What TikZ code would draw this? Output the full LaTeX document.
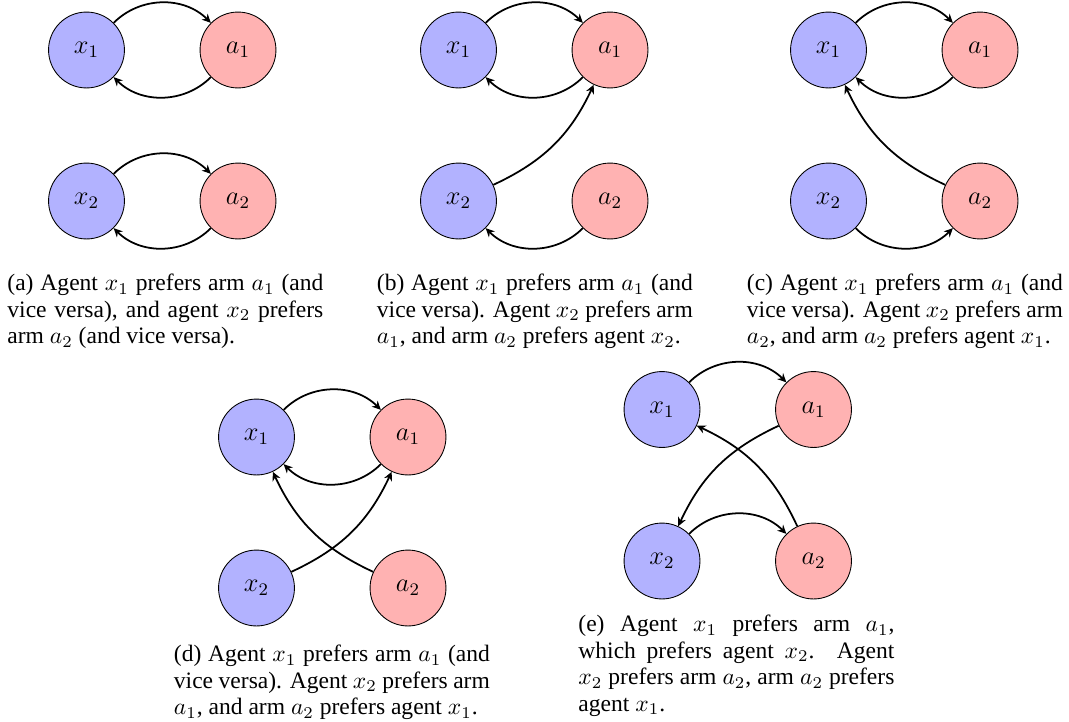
\documentclass[tikz,border=0pt]{standalone}
\usepackage{fix-cm}
\usepackage[no-math]{fontspec}
\setmainfont{Liberation Serif}
\usetikzlibrary{arrows.meta}
\newlength\capw
\setlength\capw{143.6pt}
\newcommand\jline[1]{\hbox to \capw{#1}}
\newcommand\lastline[1]{\hbox{#1}}
\newcommand\capblock[1]{\vtop{\hsize=\capw \baselineskip=12.1pt \lineskiplimit=-20pt #1}}
\begin{document}
\begin{tikzpicture}[x=0.4545pt,y=0.4545pt,
  agent/.style={circle,draw,fill=blue!30,minimum size=34.5pt,inner sep=0pt,font=\large,line width=0.4pt},
  arm/.style={agent,fill=red!30},
  pref/.style={-{Stealth[length=4pt,width=3.8pt,inset=1.3pt]},line width=0.8pt},
  captext/.style={anchor=base west,inner sep=0pt,font=\fontsize{10.7}{12.1}\selectfont}]
\useasboundingbox (0,0) rectangle (1069,-721);
% (a)
\node[agent] (ax1) at (86.5,-50) {$x_1$};
\node[arm]   (aa1) at (238,-50) {$a_1$};
\node[agent] (ax2) at (86.5,-201) {$x_2$};
\node[arm]   (aa2) at (238,-201) {$a_2$};
\draw[pref] (ax1) to[bend left=45] (aa1);
\draw[pref] (aa1) to[bend left=45] (ax1);
\draw[pref] (ax2) to[bend left=45] (aa2);
\draw[pref] (aa2) to[bend left=45] (ax2);
\node[captext] (capa) at (7,-290.5) {\capblock{%
  \jline{(a) Agent $x_1$ prefers arm $a_1$ (and}
  \jline{vice versa), and agent $x_2$ prefers}
  \lastline{arm $a_2$ (and vice versa).}}};
% (b)
\node[agent] (bx1) at (458.5,-50) {$x_1$};
\node[arm]   (ba1) at (610,-50) {$a_1$};
\node[agent] (bx2) at (458.5,-201) {$x_2$};
\node[arm]   (ba2) at (610,-201) {$a_2$};
\draw[pref] (bx1) to[bend left=45] (ba1);
\draw[pref] (ba1) to[bend left=45] (bx1);
\draw[pref] (bx2) to[bend right=20] (ba1);
\draw[pref] (ba2) to[bend left=45] (bx2);
\node[captext] (capb) at (376.5,-290.5) {\capblock{%
  \jline{(b) Agent $x_1$ prefers arm $a_1$ (and}
  \jline{vice versa). Agent $x_2$ prefers arm}
  \lastline{$a_1$, and arm $a_2$ prefers agent $x_2$.}}};
% (c)
\node[agent] (cx1) at (828.5,-50) {$x_1$};
\node[arm]   (ca1) at (980,-50) {$a_1$};
\node[agent] (cx2) at (828.5,-201) {$x_2$};
\node[arm]   (ca2) at (980,-201) {$a_2$};
\draw[pref] (cx1) to[bend left=45] (ca1);
\draw[pref] (ca1) to[bend left=45] (cx1);
\draw[pref] (ca2) to[bend left=20] (cx1);
\draw[pref] (cx2) to[bend right=45] (ca2);
\node[captext] (capc) at (746.5,-290.5) {\capblock{%
  \jline{(c) Agent $x_1$ prefers arm $a_1$ (and}
  \jline{vice versa). Agent $x_2$ prefers arm}
  \lastline{$a_2$, and arm $a_2$ prefers agent $x_1$.}}};
% (d)
\node[agent] (dx1) at (256.5,-437) {$x_1$};
\node[arm]   (da1) at (408,-437) {$a_1$};
\node[agent] (dx2) at (256.5,-588) {$x_2$};
\node[arm]   (da2) at (408,-588) {$a_2$};
\draw[pref] (dx1) to[bend left=45] (da1);
\draw[pref] (da1) to[bend left=45] (dx1);
\draw[pref] (dx2) to[bend right=20] (da1);
\draw[pref] (da2) to[bend left=20] (dx1);
\node[captext] (capd) at (173.5,-661.5) {\capblock{%
  \jline{(d) Agent $x_1$ prefers arm $a_1$ (and}
  \jline{vice versa). Agent $x_2$ prefers arm}
  \lastline{$a_1$, and arm $a_2$ prefers agent $x_1$.}}};
% (e)
\node[agent] (ex1) at (662,-409.5) {$x_1$};
\node[arm]   (ea1) at (813.5,-409.5) {$a_1$};
\node[agent] (ex2) at (662,-561) {$x_2$};
\node[arm]   (ea2) at (813.5,-561) {$a_2$};
\draw[pref] (ex1) to[bend left=45] (ea1);
\draw[pref] (ea1) to[bend right=20] (ex2);
\draw[pref] (ex2) to[bend left=45] (ea2);
\draw[pref] (ea2) to[bend right=20] (ex1);
\node[captext] (cape) at (578,-631.5) {\capblock{%
  \jline{(e) Agent $x_1$ prefers arm $a_1$,}
  \jline{which prefers agent $x_2$. Agent}
  \jline{$x_2$ prefers arm $a_2$, arm $a_2$ prefers}
  \lastline{agent $x_1$.}}};
\end{tikzpicture}
\end{document}
